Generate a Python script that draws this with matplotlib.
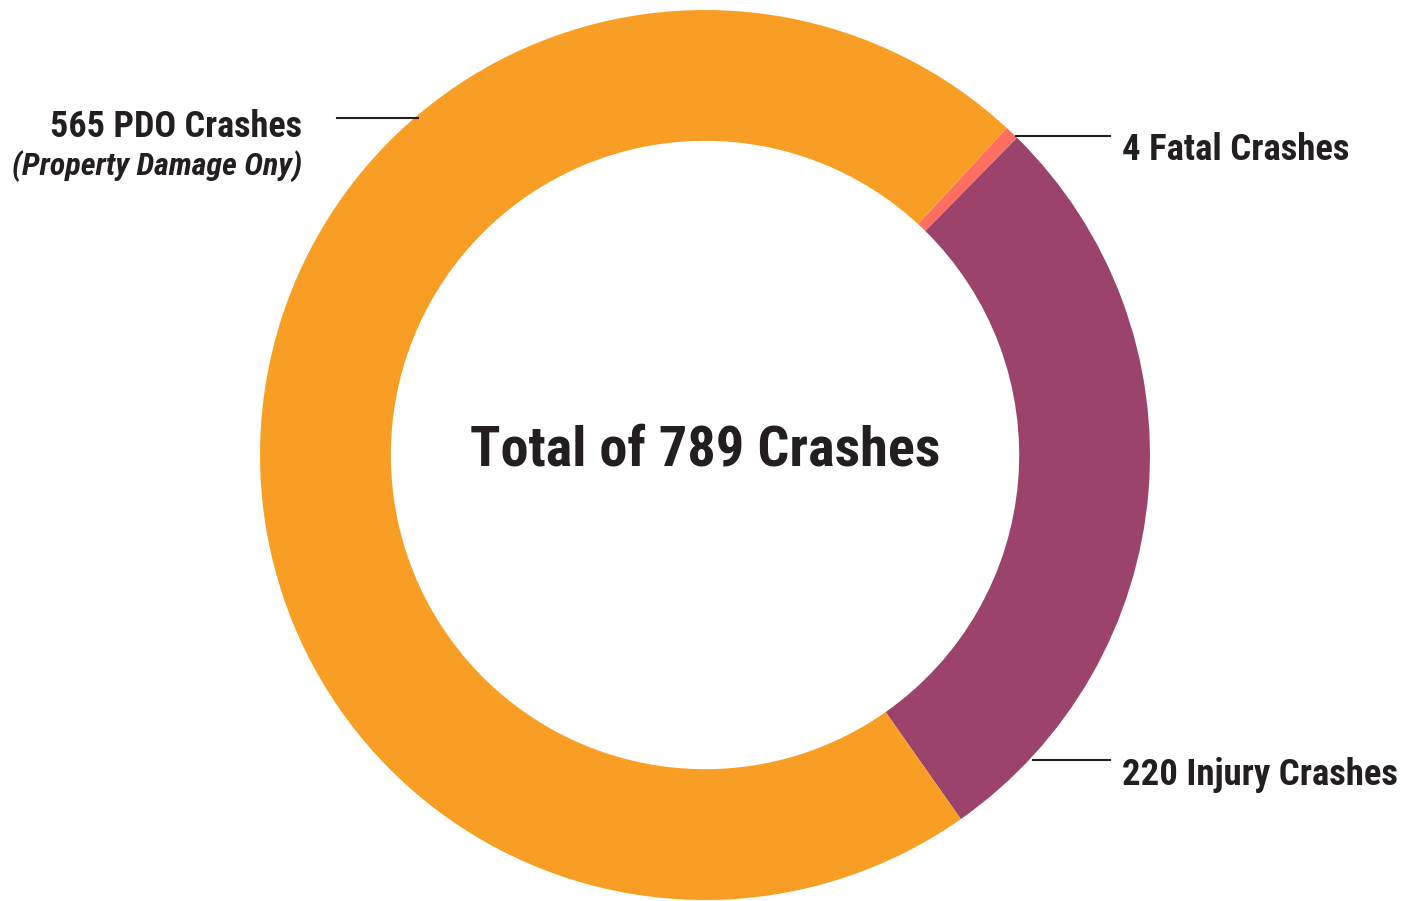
import matplotlib
matplotlib.use('Agg')
import matplotlib.pyplot as plt

# === Data ===
labels = ['4 Fatal Crashes', '220 Injury Crashes', '565 PDO Crashes']
sublabel = '(Property Damage Ony)'
counts = [4, 220, 565]
colors = ['#FF6F61', '#9C436C', '#F99E24']
total = sum(counts)

TXT = '#231F20'
FONT = ['Roboto Condensed', 'DejaVu Sans']

fig = plt.figure(figsize=(14.18, 9.01), dpi=100)
ax = fig.add_axes([0, 0, 1, 1])

H = 901  # work in pixel coords, y flipped
ax.pie(counts, colors=colors, center=(705, H - 455), radius=445,
       startangle=47.3, counterclock=False,
       wedgeprops=dict(width=445 * 0.294, linewidth=0))
ax.set_xlim(0, 1418)
ax.set_ylim(0, H)
ax.set_aspect('equal')
ax.axis('off')

tk = dict(family=FONT, color=TXT, fontweight='bold')

ax.text(705, H - 451, f'Total of {total} Crashes', ha='center', va='center',
        fontsize=40.5, **tk)

# leader lines + labels
ax.plot([337, 418], [H - 118, H - 118], color=TXT, lw=1.5)
ax.text(302, H - 127, labels[2], ha='right', va='center', fontsize=26, **tk)
ax.text(302, H - 166, sublabel, ha='right', va='center',
        fontsize=23, style='italic', **tk)

ax.plot([1016, 1110], [H - 136, H - 136], color=TXT, lw=1.5)
ax.text(1122, H - 150, labels[0], ha='left', va='center', fontsize=26.5, **tk)

ax.plot([1033, 1110], [H - 760, H - 760], color=TXT, lw=1.5)
ax.text(1122, H - 775, labels[1], ha='left', va='center', fontsize=26.5, **tk)

fig.savefig('out.png', dpi=100)
